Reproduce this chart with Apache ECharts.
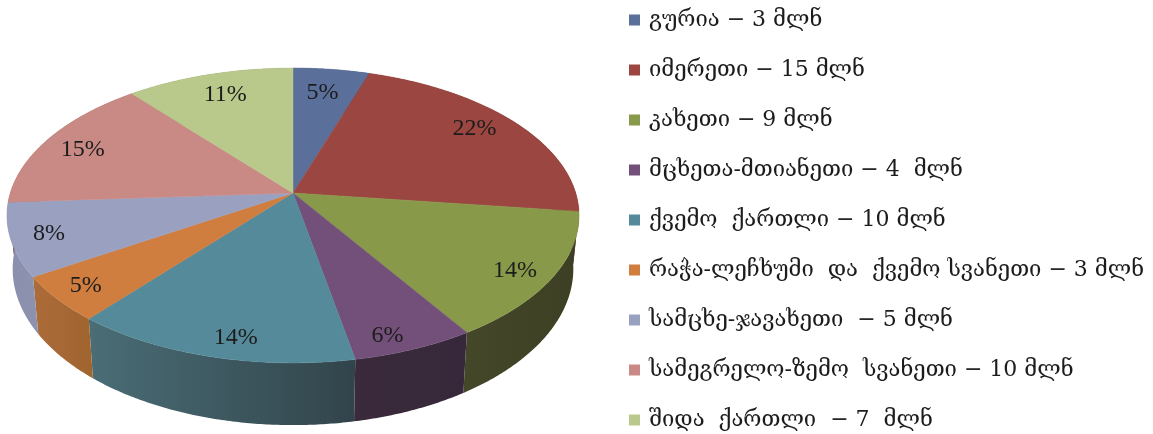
<!DOCTYPE html>
<html>
<head>
<meta charset="utf-8">
<script src="https://cdn.jsdelivr.net/npm/echarts@6/dist/echarts.min.js"></script>
<style>html,body{margin:0;padding:0;background:#fff}#c{width:1153px;height:434px}</style>
</head>
<body>
<div id="c"></div>
<script>
const regions = ['გურია','იმერეთი','კახეთი','მცხეთა-მთიანეთი','ქვემო  ქართლი','რაჭა-ლეჩხუმი  და  ქვემო სვანეთი','სამცხე-ჯავახეთი ','სამეგრელო-ზემო  სვანეთი','შიდა  ქართლი '];
const millions = ['3','15','9','4 ','10','3','5','10','7 '];
const percents = [5,22,14,6,14,5,8,15,11];
const topColors = ['#5b6f9b','#9b4640','#88994a','#735079','#558a9a','#cf7e3f','#9aa0c0','#c98a85','#b9c98c'];
const wallLeft = ['#3a4663','#632d2a','#444728','#3a2a3b','#4a6d76','#ac6c3a','#8a8fae','#7f5855','#76805a'];
const wallRight = ['#3a4663','#632d2a','#3d3f24','#36283a','#32444b','#a0642f','#8d93ae','#7f5855','#76805a'];
const labelReach = [.79,.84,.88,.91,.89,.89,.87,.84,.81];
const labelTurn = [-.5,-2.5,2,3,-3,0,0,-1.5,.5];

// Perspective view of the disc: hub position, far/near foreshortening, and the offset of the lower rim.
const hubX = 293, hubY = 193, spanX = 282.7, spanY = 144, tilt = .1525;
const rimScaleX = .98, rimScaleY = 1.06, rimDrop = 52;
const total = percents.reduce((a, b) => a + b, 0);
const edge = i => percents.slice(0, i).reduce((a, b) => a + b, 0) / total * 360;

function project(deg, r) {
  const t = deg * Math.PI / 180, u = r * Math.sin(t), v = r * Math.cos(t), w = 1 + tilt * v;
  return [hubX + spanX * u / w, hubY - spanY * v / w];
}
function lower(p) {
  return [hubX + (p[0] - hubX) * rimScaleX, hubY + rimDrop + (p[1] - hubY) * rimScaleY];
}
function arc(a, b) {
  const pts = [], n = Math.max(2, Math.ceil((b - a) * 2));
  for (let k = 0; k <= n; k++) pts.push(project(a + (b - a) * k / n, 1));
  return pts;
}

const wallSeries = {
  type: 'custom', name: 'walls', coordinateSystem: 'none', z: 1, silent: true, animation: false,
  data: percents.map((p, i) => [i, p]),
  renderItem(params, api) {
    const i = api.value(0), rim = arc(edge(i), edge(i + 1));
    return {
      type: 'polygon',
      shape: { points: rim.concat(rim.map(lower).reverse()) },
      style: { fill: new echarts.graphic.LinearGradient(0, 0, 1, 0, [
        { offset: 0, color: wallLeft[i] }, { offset: 1, color: wallRight[i] }]) }
    };
  }
};

const faceSeries = regions.map((name, i) => ({
  type: 'custom',
  name: name + ' − ' + millions[i] + ' მლნ',
  coordinateSystem: 'none', z: 2, silent: true, animation: false,
  itemStyle: { color: topColors[i] },
  data: [[i, percents[i]]],
  renderItem(params, api) {
    const j = api.value(0), a = edge(j), b = edge(j + 1);
    const pos = project((a + b) / 2 + labelTurn[j], labelReach[j]);
    return {
      type: 'group',
      children: [
        { type: 'polygon', shape: { points: [[hubX, hubY]].concat(arc(a, b)) },
          style: { fill: topColors[j], stroke: topColors[j], lineWidth: .5 } },
        { type: 'text', z2: 10, x: pos[0], y: pos[1],
          style: { text: api.value(1) + '%', fill: '#1c1c1c', align: 'center', verticalAlign: 'middle',
            font: '24px "Liberation Serif", serif' } }
      ]
    };
  }
}));

const chart = echarts.init(document.getElementById('c'), null, { renderer: 'canvas' });
chart.setOption({
  animation: false,
  backgroundColor: '#fff',
  legend: {
    orient: 'vertical', left: 629, top: 7, padding: 0, itemWidth: 11, itemHeight: 11, itemGap: 24,
    icon: 'rect', selectedMode: false, align: 'left',
    data: faceSeries.map(s => s.name),
    textStyle: { color: '#1c1c1c', fontSize: 22, lineHeight: 26, padding: [0, 0, 0, 4],
      fontFamily: '"DejaVu Serif", serif' }
  },
  series: [wallSeries].concat(faceSeries)
});
</script>
</body>
</html>
